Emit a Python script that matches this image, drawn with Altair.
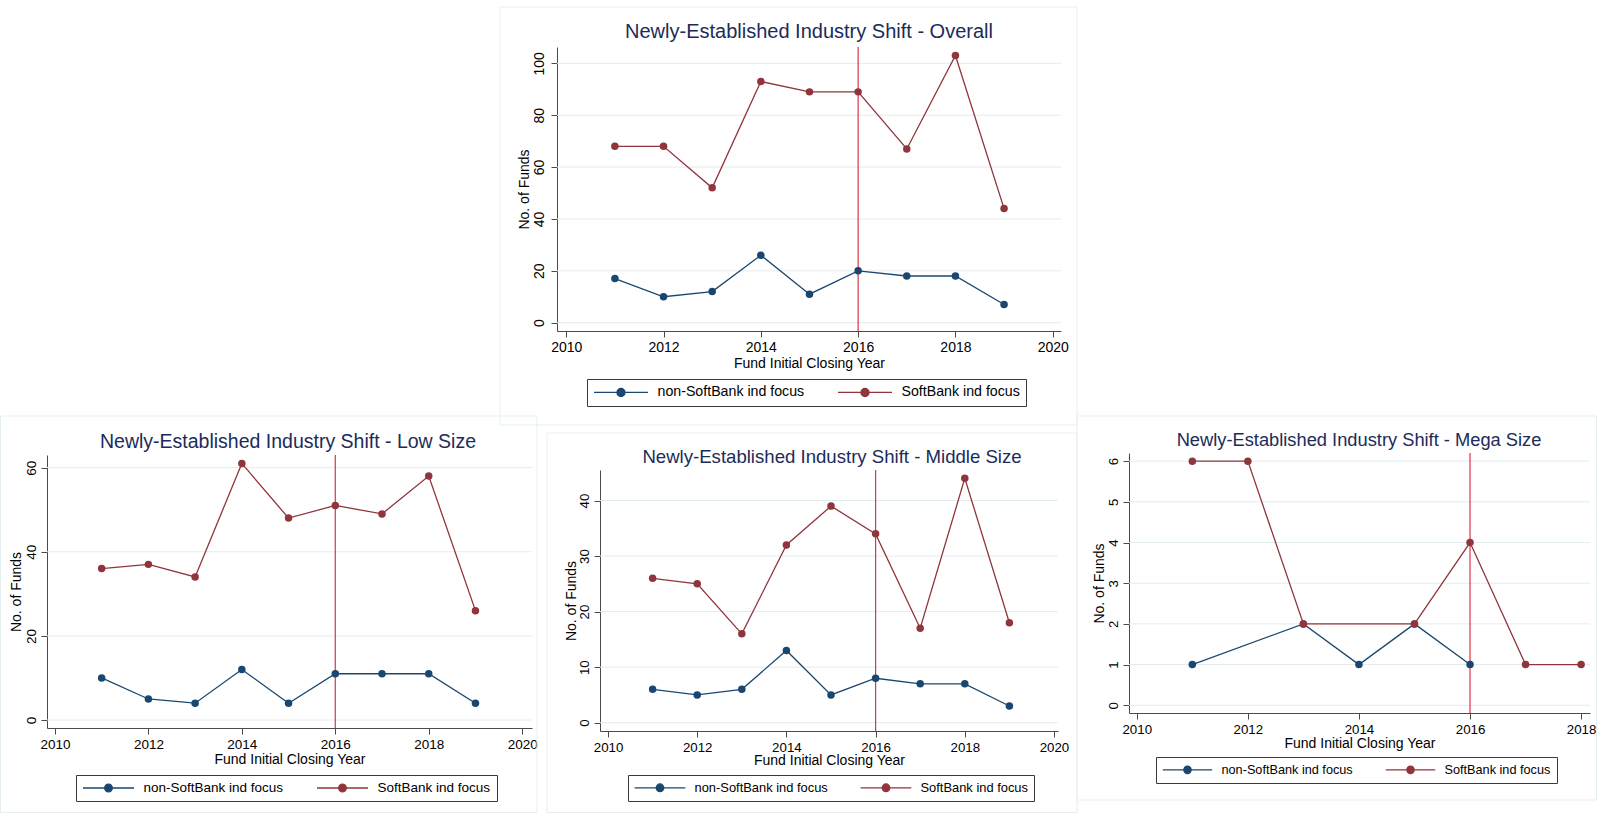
import altair as alt
import pandas as pd

# Fund counts by initial closing year
years = [2011, 2012, 2013, 2014, 2015, 2016, 2017, 2018, 2019]
overall_non = [17, 10, 12, 26, 11, 20, 18, 18, 7]
overall_sb = [68, 68, 52, 93, 89, 89, 67, 103, 44]
low_non = [10, 5, 4, 12, 4, 11, 11, 11, 4]
low_sb = [36, 37, 34, 61, 48, 51, 49, 58, 26]
mid_non = [6, 5, 6, 13, 5, 8, 7, 7, 3]
mid_sb = [26, 25, 16, 32, 39, 34, 17, 44, 18]
mega_non_years = [2011, 2013, 2014, 2015, 2016]
mega_non = [1, 2, 1, 2, 1]
mega_sb_years = [2011, 2012, 2013, 2015, 2016, 2017, 2018]
mega_sb = [6, 6, 2, 2, 4, 1, 1]

series_names = ["non-SoftBank ind focus", "SoftBank ind focus"]
series_colors = ["#1a476f", "#90353b"]
marker_year = 2016

W, H = 1597, 813
FONT = "Liberation Sans"
TITLE_COLOR = "#1c2b5a"
GRID_COLOR = "#e2edef"
FRAME_COLOR = "#e6efef"
AXIS_COLOR = "#4a4a4a"
VLINE_COLOR = "#d8344c"

# line with a dot in the middle, used as legend key
KEY_PATH = ("M-1,0L1,0M-0.15,0A0.15,0.15,0,1,1,0.15,0"
            "A0.15,0.15,0,1,1,-0.15,0Z")


def frame_of(x_years, values, name):
    return pd.DataFrame({"year": x_years, "value": values, "series": name})


panels = [
    dict(title="Newly-Established Industry Shift - Overall",
         data=[(years, overall_non), (years, overall_sb)],
         title_xy=(809, 32), title_size=20,
         xrange=[557, 1061], xdom=[2009.81, 2020.17],
         yrange=[331, 47], ydom=[-3.2, 106.3],
         xticks=[2010, 2012, 2014, 2016, 2018, 2020],
         yticks=[0, 20, 40, 60, 80, 100],
         tick_font=14, ylab_pad=8, ytitle_x=-33, xtitle_y=32,
         legend_xy=(587, 379), legend_font=14.2, key_w=54,
         frame=(500, 7, 1077, 425)),
    dict(title="Newly-Established Industry Shift - Low Size",
         data=[(years, low_non), (years, low_sb)],
         title_xy=(288, 442), title_size=19.5,
         xrange=[47, 532], xdom=[2009.83, 2020.21],
         yrange=[728, 455], ydom=[-1.9, 63.0],
         xticks=[2010, 2012, 2014, 2016, 2018, 2020],
         yticks=[0, 20, 40, 60],
         tick_font=13.5, ylab_pad=6, ytitle_x=-31, xtitle_y=31,
         legend_xy=(76, 775), legend_font=13.5, key_w=51,
         frame=(0.5, 416, 537, 812.5)),
    dict(title="Newly-Established Industry Shift - Middle Size",
         data=[(years, mid_non), (years, mid_sb)],
         title_xy=(832, 457), title_size=18.6,
         xrange=[600, 1058], xdom=[2009.82, 2020.09],
         yrange=[731, 470], ydom=[-1.5, 45.5],
         xticks=[2010, 2012, 2014, 2016, 2018, 2020],
         yticks=[0, 10, 20, 30, 40],
         tick_font=13.3, ylab_pad=6, ytitle_x=-29, xtitle_y=29.5,
         legend_xy=(628, 775), legend_font=12.9, key_w=50.7,
         frame=(547, 433, 1077, 812.5)),
    dict(title="Newly-Established Industry Shift - Mega Size",
         data=[(mega_non_years, mega_non), (mega_sb_years, mega_sb)],
         title_xy=(1359, 441), title_size=18.3,
         xrange=[1129, 1590], xdom=[2009.86, 2018.16],
         yrange=[713, 453], ydom=[-0.19, 6.2],
         xticks=[2010, 2012, 2014, 2016, 2018],
         yticks=[0, 1, 2, 3, 4, 5, 6],
         tick_font=13.3, ylab_pad=6, ytitle_x=-30, xtitle_y=30.5,
         legend_xy=(1156, 757), legend_font=12.7, key_w=49.4,
         frame=(1077, 416, 1596.5, 800)),
]


def make_panel(p):
    df = pd.concat([frame_of(xv, yv, name)
                    for (xv, yv), name in zip(p["data"], series_names)],
                   ignore_index=True)
    xs = alt.Scale(domain=p["xdom"], range=p["xrange"], nice=False, zero=False)
    ys = alt.Scale(domain=p["ydom"], range=p["yrange"], nice=False, zero=False)
    cs = alt.Scale(domain=series_names, range=series_colors)

    common = dict(grid=False, labelOverlap=False, format="d",
                  domainColor=AXIS_COLOR, tickColor=AXIS_COLOR,
                  labelFont=FONT, labelFontSize=p["tick_font"],
                  labelColor="black", titleFont=FONT, titleFontSize=14,
                  titleFontWeight="normal", titleColor="black")
    x_axis = alt.Axis(orient="bottom", offset=p["yrange"][0] - H,
                      values=p["xticks"], title="Fund Initial Closing Year",
                      tickSize=6, labelPadding=3,
                      titleY=p["xtitle_y"], titleBaseline="middle",
                      **common)
    y_axis = alt.Axis(orient="left", offset=-p["xrange"][0],
                      values=p["yticks"], title="No. of Funds",
                      tickSize=6, labelAngle=270, labelAlign="center",
                      labelBaseline="alphabetic", labelPadding=p["ylab_pad"],
                      titleX=p["ytitle_x"], titleAngle=270,
                      titleBaseline="middle", titleAlign="center",
                      **common)
    legend = alt.Legend(orient="none", legendX=p["legend_xy"][0],
                        legendY=p["legend_xy"][1], direction="horizontal",
                        title=None, symbolType=KEY_PATH,
                        symbolSize=p["key_w"] ** 2,
                        symbolStrokeWidth=1.3, clipHeight=p["legend_font"],
                        labelFont=FONT, labelFontSize=p["legend_font"],
                        labelColor="black", labelOffset=8.5,
                        labelExpr=("datum.value == '" + series_names[1] +
                                   "' ? datum.label + '\u00a0\u00a0' : datum.label"),
                        columnPadding=32, padding=6,
                        strokeColor="#3a3a3a", fillColor="white")

    frame = alt.Chart(pd.DataFrame({"k": [0]})).mark_rect(
        fill="transparent", stroke=FRAME_COLOR, strokeWidth=1
    ).encode(x=alt.value(p["frame"][0]), x2=alt.value(p["frame"][2]),
             y=alt.value(p["frame"][1]), y2=alt.value(p["frame"][3]))

    grid = alt.Chart(pd.DataFrame({"v": p["yticks"]})).mark_rule(
        color=GRID_COLOR, strokeWidth=1
    ).encode(y=alt.Y("v:Q", scale=ys, axis=y_axis),
             x=alt.XDatum(p["xdom"][0], type="quantitative", scale=xs, axis=x_axis),
             x2=alt.X2Datum(p["xdom"][1]))

    vline = alt.Chart(pd.DataFrame({"yr": [marker_year]})).mark_rule(
        color=VLINE_COLOR, strokeWidth=1.2
    ).encode(x=alt.X("yr:Q", scale=xs, axis=x_axis),
             y=alt.YDatum(p["ydom"][1], type="quantitative", scale=ys, axis=y_axis),
             y2=alt.Y2Datum(p["ydom"][0]))

    base = alt.Chart(df)
    lines = base.mark_line(strokeWidth=1.3).encode(
        x=alt.X("year:Q", scale=xs, axis=x_axis),
        y=alt.Y("value:Q", scale=ys, axis=y_axis),
        color=alt.Color("series:N", scale=cs, legend=legend),
        order="year:Q")
    points = base.mark_point(filled=True, size=56, opacity=1).encode(
        x=alt.X("year:Q", scale=xs, axis=x_axis),
        y=alt.Y("value:Q", scale=ys, axis=y_axis),
        color=alt.Color("series:N", scale=cs, legend=legend))

    title = alt.Chart(pd.DataFrame({"t": [p["title"]]})).mark_text(
        font=FONT, fontSize=p["title_size"], color=TITLE_COLOR,
        align="center", baseline="middle"
    ).encode(text="t:N", x=alt.value(p["title_xy"][0]),
             y=alt.value(p["title_xy"][1]))

    return alt.layer(frame, grid, vline, lines, points, title)


chart = alt.layer(*[make_panel(p) for p in panels]).resolve_scale(
    x="independent", y="independent", color="independent"
).properties(
    width=W, height=H, padding=0, background="white",
    autosize=alt.AutoSizeParams(type="none")
).configure_view(stroke=None)

chart.save("out.html", embed_options={"renderer": "svg", "actions": False})
